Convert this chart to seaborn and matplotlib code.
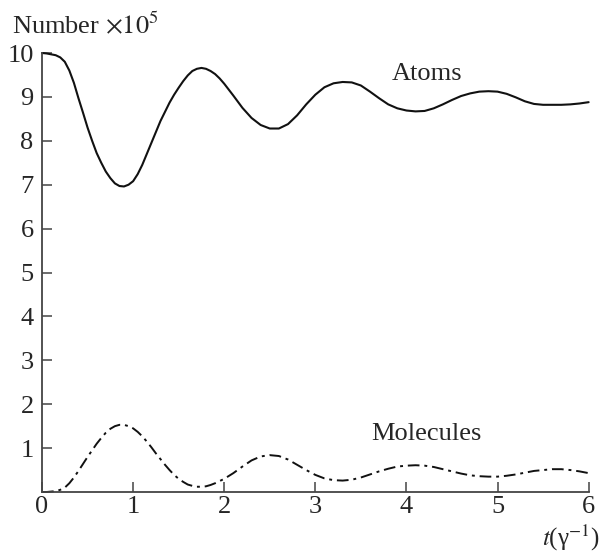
import numpy as np
import pandas as pd
import seaborn as sns
import matplotlib.pyplot as plt

t = [0.0, 0.05, 0.1, 0.15, 0.2, 0.25, 0.3, 0.35, 0.4, 0.45,
     0.5, 0.55, 0.6, 0.65, 0.7, 0.75, 0.8, 0.85, 0.9, 0.95,
     1.0, 1.05, 1.1, 1.15, 1.2, 1.25, 1.3, 1.35, 1.4, 1.45,
     1.5, 1.55, 1.6, 1.65, 1.7, 1.75, 1.8, 1.85, 1.9, 1.95,
     2.0, 2.1, 2.2, 2.3, 2.4, 2.5, 2.6, 2.7, 2.8, 2.9,
     3.0, 3.1, 3.2, 3.3, 3.4, 3.5, 3.6, 3.7, 3.8, 3.9,
     4.0, 4.1, 4.2, 4.3, 4.4, 4.5, 4.6, 4.7, 4.8, 4.9,
     5.0, 5.1, 5.2, 5.3, 5.4, 5.5, 5.6, 5.7, 5.8, 5.9, 6.0]

atoms = [10.0, 9.99, 9.97, 9.95, 9.9, 9.8, 9.6, 9.32, 8.97, 8.64,
         8.3, 8.0, 7.72, 7.5, 7.3, 7.15, 7.03, 6.97, 6.96, 7.0,
         7.08, 7.24, 7.45, 7.7, 7.95, 8.2, 8.45, 8.66, 8.87, 9.05,
         9.21, 9.36, 9.49, 9.59, 9.64, 9.66, 9.64, 9.59, 9.52, 9.42,
         9.3, 9.03, 8.75, 8.52, 8.36, 8.28, 8.28, 8.38, 8.58, 8.83,
         9.05, 9.22, 9.31, 9.34, 9.33, 9.26, 9.12, 8.97, 8.83, 8.74,
         8.69, 8.67, 8.68, 8.74, 8.83, 8.93, 9.02, 9.08, 9.12, 9.13,
         9.12, 9.07, 8.99, 8.9, 8.84, 8.82, 8.82, 8.82, 8.83, 8.85, 8.88]

molecules = [0.0, 0.0, 0.01, 0.02, 0.05, 0.1, 0.2, 0.33, 0.48, 0.64,
             0.8, 0.95, 1.1, 1.23, 1.35, 1.44, 1.5, 1.53, 1.53, 1.5,
             1.45, 1.37, 1.27, 1.15, 1.02, 0.88, 0.75, 0.62, 0.5, 0.39,
             0.3, 0.23, 0.17, 0.14, 0.12, 0.12, 0.13, 0.16, 0.2, 0.25,
             0.3, 0.43, 0.58, 0.72, 0.81, 0.84, 0.82, 0.74, 0.62, 0.5,
             0.39, 0.31, 0.27, 0.26, 0.28, 0.33, 0.4, 0.47, 0.53, 0.58,
             0.6, 0.61, 0.6, 0.57, 0.52, 0.47, 0.42, 0.38, 0.36, 0.35,
             0.35, 0.37, 0.4, 0.44, 0.48, 0.5, 0.52, 0.52, 0.5, 0.47, 0.43]

xticks = [0, 1, 2, 3, 4, 5, 6]
yticks = [1, 2, 3, 4, 5, 6, 7, 8, 9, 10]

df = pd.DataFrame({'t': t, 'Atoms': atoms, 'Molecules': molecules})

sns.set_style('ticks')
plt.rcParams['font.family'] = ['Liberation Serif', 'DejaVu Serif']
plt.rcParams['mathtext.fontset'] = 'stix'

fig = plt.figure(figsize=(6.02, 5.55), dpi=100)
ax = fig.add_axes([0.0698, 0.1135, 0.908, 0.791])

sns.lineplot(data=df, x='t', y='Atoms', ax=ax, color='#111111', lw=1.5, clip_on=False)
sns.lineplot(data=df, x='t', y='Molecules', ax=ax, color='#111111', lw=1.4,
             dashes=False, clip_on=False)
ax.lines[-1].set_dashes([6, 2.5, 1.5, 2.5])

ax.set_xlim(0, 6)
ax.set_ylim(0, 10)
ax.set_xticks(xticks)
ax.set_yticks(yticks)
ax.tick_params(direction='in', length=7, width=1.1, color='#444444',
               labelsize=19, pad=6)
ax.tick_params(axis='x', pad=3)
for s in ['top', 'right']:
    ax.spines[s].set_visible(False)
for s in ['left', 'bottom']:
    ax.spines[s].set_color('#444444')
    ax.spines[s].set_linewidth(1.3)

ax.set_xlabel('')
ax.set_ylabel('')

ax.text(4.23, 9.53, 'Atoms', fontsize=19, ha='center', va='center')
ax.text(4.22, 1.32, 'Molecules', fontsize=19, ha='center', va='center')

fig.text(0.02, 0.955, r'Number $\times10^5$', fontsize=19, ha='left', va='center')
fig.text(0.996, 0.004, r'$t$(γ$^{-1}$)', fontsize=18, ha='right', va='bottom')

fig.savefig('out.png', dpi=100)
